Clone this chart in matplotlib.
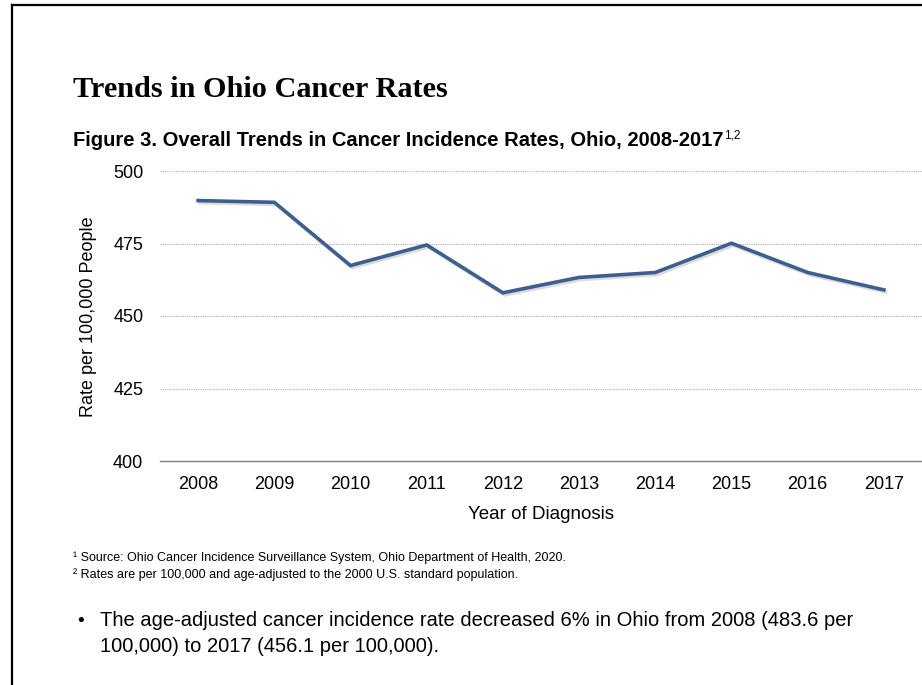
import matplotlib.pyplot as plt
import matplotlib.patheffects as pe
from matplotlib.lines import Line2D

# data
years = ['2008', '2009', '2010', '2011', '2012', '2013', '2014', '2015', '2016', '2017']
rates = [489.8, 489.2, 467.4, 474.5, 458.0, 463.3, 465.0, 475.1, 465.0, 459.0]
y_ticks = [400, 425, 450, 475, 500]

W, H = 922, 685
fig = plt.figure(figsize=(W / 100, H / 100), dpi=100)
fig.patch.set_facecolor('white')

ax = fig.add_axes([160 / W, 1 - 461 / H, (W - 160) / W, (461 - 171) / H])
x = range(len(years))
ax.plot(x, rates, color='#3d5f8f', linewidth=2.6, solid_joinstyle='miter',
        path_effects=[pe.SimpleLineShadow(offset=(1.2, -1.5), shadow_color='#888888', alpha=0.3),
                      pe.Normal()])
ax.set_xlim(-0.5, len(years) - 0.5)
ax.set_ylim(400, 500)
ax.set_xticks(list(x))
ax.set_xticklabels(years)
ax.set_yticks(y_ticks)
ax.tick_params(axis='both', length=0, labelsize=13, colors='black')
ax.tick_params(axis='y', pad=12)
ax.tick_params(axis='x', pad=11)
for lab in ax.get_xticklabels() + ax.get_yticklabels():
    lab.set_fontfamily('Liberation Sans')

for v in y_ticks[1:]:
    ax.axhline(v, color='#b0b0b0', linewidth=0.8, linestyle=(0, (1, 1)), zorder=0)
for s in ['top', 'right', 'left']:
    ax.spines[s].set_visible(False)
ax.spines['bottom'].set_color('#7f7f7f')
ax.spines['bottom'].set_linewidth(1.0)

ax.set_xlabel('Year of Diagnosis', fontsize=13.5, family='Liberation Sans', labelpad=9)
fig.text(88 / W, 1 - 317 / H, 'Rate per 100,000 People', rotation=90, ha='center', va='center',
         fontsize=13, family='Liberation Sans')

# headings
fig.text(73 / W, 1 - 97 / H, 'Trends in Ohio Cancer Rates', fontsize=21.8, fontweight='bold',
         family='Liberation Serif', ha='left', va='baseline')
fig.text(73 / W, 1 - 146 / H, 'Figure 3. Overall Trends in Cancer Incidence Rates, Ohio, 2008-2017',
         fontsize=14.5, fontweight='bold', family='Liberation Sans', ha='left', va='baseline')
fig.text(724 / W, 1 - 139 / H, '1,2', fontsize=8.5, family='Liberation Sans', ha='left', va='baseline')

# footnotes
fig.text(73 / W, 1 - 561 / H, '\u00b9 Source: Ohio Cancer Incidence Surveillance System, Ohio Department of Health, 2020.',
         fontsize=9, family='Liberation Sans', ha='left', va='baseline')
fig.text(73 / W, 1 - 578 / H, '\u00b2 Rates are per 100,000 and age-adjusted to the 2000 U.S. standard population.',
         fontsize=9, family='Liberation Sans', ha='left', va='baseline')

# bullet point
fig.text(77 / W, 1 - 626 / H, '\u2022', fontsize=14, family='Liberation Sans', ha='left', va='baseline')
fig.text(100 / W, 1 - 626 / H, 'The age-adjusted cancer incidence rate decreased 6% in Ohio from 2008 (483.6 per',
         fontsize=14.5, family='Liberation Sans', ha='left', va='baseline')
fig.text(100 / W, 1 - 652 / H, '100,000) to 2017 (456.1 per 100,000).',
         fontsize=14.5, family='Liberation Sans', ha='left', va='baseline')

# page frame (left and top edges)
fig.add_artist(Line2D([12 / W, 12 / W], [0, 1 - 5 / H], color='black', linewidth=1.6))
fig.add_artist(Line2D([12 / W, 1], [1 - 5 / H, 1 - 5 / H], color='black', linewidth=1.6))

fig.savefig('out.png', dpi=100)
